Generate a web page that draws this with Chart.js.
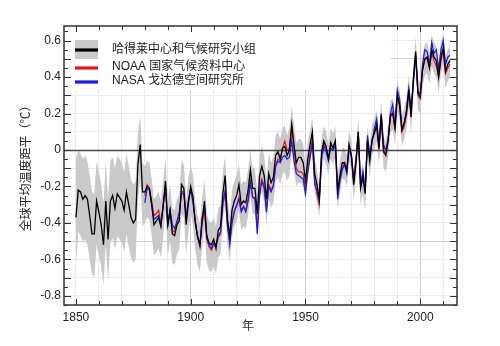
<!DOCTYPE html>
<html><head><meta charset="utf-8">
<script src="https://cdn.jsdelivr.net/npm/chart.js@4.4.1/dist/chart.umd.min.js"></script>
<style>html,body{margin:0;padding:0;background:#fff;}canvas{display:block}</style>
</head><body>
<canvas id="c" width="500" height="346"></canvas>
<script>
// ---------------- data ----------------
const seriesNames = ['哈得莱中心和气候研究小组', 'NOAA 国家气候资料中心', 'NASA 戈达德空间研究所'];
const yTitle = '全球平均温度距平（℃）';
const xTitle = '年';
const hadStartYear = 1850;
const noaaStartYear = 1880;
const nasaStartYear = 1880;

// HadCRUT annual anomaly (black), 1850-2013
const hadcrut = [
 -0.37,-0.22,-0.23,-0.27,-0.25,-0.27,-0.36,-0.46,-0.46,-0.28,
 -0.34,-0.41,-0.52,-0.28,-0.49,-0.28,-0.25,-0.32,-0.24,-0.26,
 -0.28,-0.33,-0.23,-0.30,-0.37,-0.40,-0.38,-0.08,0.03,-0.23,
 -0.23,-0.20,-0.21,-0.30,-0.41,-0.39,-0.37,-0.42,-0.31,-0.17,
 -0.41,-0.33,-0.46,-0.47,-0.41,-0.39,-0.19,-0.21,-0.41,-0.29,
 -0.20,-0.26,-0.40,-0.48,-0.52,-0.38,-0.28,-0.47,-0.51,-0.52,
 -0.49,-0.54,-0.44,-0.42,-0.24,-0.14,-0.38,-0.47,-0.33,-0.28,
 -0.25,-0.19,-0.30,-0.28,-0.29,-0.22,-0.11,-0.21,-0.21,-0.35,
 -0.14,-0.09,-0.14,-0.27,-0.13,-0.18,-0.15,-0.03,-0.01,-0.05,
 0.01,0.02,-0.03,0.00,0.14,0.03,-0.07,-0.04,-0.04,-0.07,
 -0.17,-0.05,0.03,0.10,-0.13,-0.19,-0.27,-0.01,0.05,0.02,
 -0.05,0.04,0.01,0.05,-0.22,-0.14,-0.07,-0.07,-0.11,0.03,
 -0.03,-0.19,-0.07,0.10,-0.21,-0.15,-0.24,0.05,-0.06,0.06,
 0.09,0.14,0.01,0.19,-0.01,-0.03,0.05,0.19,0.20,0.12,
 0.30,0.25,0.11,0.15,0.21,0.33,0.18,0.39,0.54,0.31,
 0.29,0.44,0.50,0.51,0.45,0.55,0.51,0.49,0.40,0.51,
 0.56,0.43,0.47,0.49];

// HadCRUT uncertainty band, upper edge, 1850-2013
const hadUpper = [
 -0.05,0.00,-0.02,-0.05,-0.03,-0.06,-0.14,-0.23,-0.24,-0.06,
 -0.12,-0.19,-0.29,-0.06,-0.27,-0.06,-0.04,-0.10,-0.03,-0.05,
 -0.07,-0.12,-0.02,-0.09,-0.16,-0.19,-0.17,0.09,0.19,-0.07,
 -0.09,-0.06,-0.07,-0.16,-0.27,-0.25,-0.23,-0.28,-0.17,-0.04,
 -0.27,-0.19,-0.32,-0.33,-0.27,-0.25,-0.06,-0.08,-0.27,-0.15,
 -0.08,-0.14,-0.28,-0.36,-0.40,-0.26,-0.16,-0.35,-0.39,-0.40,
 -0.37,-0.42,-0.32,-0.30,-0.12,-0.03,-0.27,-0.36,-0.22,-0.17,
 -0.14,-0.08,-0.19,-0.17,-0.18,-0.11,0.00,-0.10,-0.10,-0.24,
 -0.03,0.02,-0.03,-0.16,-0.02,-0.07,-0.04,0.08,0.10,0.06,
 0.12,0.13,0.08,0.12,0.24,0.14,0.04,0.06,0.06,0.03,
 -0.08,0.04,0.11,0.18,-0.05,-0.11,-0.19,0.07,0.13,0.10,
 0.03,0.12,0.09,0.13,-0.14,-0.06,0.01,0.01,-0.03,0.11,
 0.05,-0.11,0.01,0.18,-0.13,-0.07,-0.16,0.13,0.02,0.14,
 0.17,0.22,0.09,0.27,0.07,0.05,0.13,0.27,0.28,0.20,
 0.38,0.33,0.19,0.23,0.29,0.41,0.26,0.47,0.62,0.39,
 0.37,0.52,0.58,0.59,0.53,0.63,0.59,0.57,0.48,0.59,
 0.64,0.51,0.55,0.57];

// HadCRUT uncertainty band, lower edge, 1850-2013
const hadLower = [
 -0.62,-0.45,-0.47,-0.50,-0.49,-0.52,-0.60,-0.68,-0.70,-0.52,
 -0.58,-0.64,-0.74,-0.52,-0.72,-0.51,-0.48,-0.55,-0.47,-0.49,
 -0.51,-0.56,-0.46,-0.53,-0.59,-0.62,-0.60,-0.28,-0.15,-0.42,
 -0.40,-0.37,-0.38,-0.47,-0.58,-0.56,-0.54,-0.59,-0.48,-0.33,
 -0.58,-0.50,-0.62,-0.63,-0.57,-0.55,-0.35,-0.37,-0.57,-0.45,
 -0.35,-0.41,-0.55,-0.63,-0.67,-0.53,-0.43,-0.62,-0.66,-0.67,
 -0.64,-0.68,-0.59,-0.57,-0.38,-0.29,-0.52,-0.61,-0.47,-0.42,
 -0.39,-0.33,-0.44,-0.42,-0.43,-0.36,-0.25,-0.35,-0.35,-0.50,
 -0.28,-0.23,-0.28,-0.41,-0.27,-0.32,-0.29,-0.17,-0.15,-0.19,
 -0.13,-0.12,-0.17,-0.14,0.00,-0.11,-0.20,-0.18,-0.18,-0.20,
 -0.28,-0.16,-0.07,0.00,-0.23,-0.29,-0.37,-0.11,-0.05,-0.08,
 -0.14,-0.05,-0.08,-0.04,-0.32,-0.24,-0.16,-0.16,-0.20,-0.06,
 -0.12,-0.28,-0.16,0.01,-0.30,-0.24,-0.33,-0.04,-0.15,-0.03,
 0.00,0.05,-0.08,0.10,-0.10,-0.12,-0.04,0.10,0.11,0.03,
 0.21,0.16,0.02,0.06,0.12,0.24,0.09,0.30,0.45,0.22,
 0.20,0.35,0.41,0.42,0.36,0.46,0.42,0.40,0.31,0.42,
 0.47,0.34,0.38,0.40];

// NOAA NCDC (red), 1880-2013
const noaa = [
 -0.25,-0.19,-0.21,-0.28,-0.36,-0.35,-0.33,-0.40,-0.30,-0.19,
 -0.40,-0.34,-0.44,-0.45,-0.40,-0.36,-0.23,-0.23,-0.38,-0.27,
 -0.22,-0.28,-0.40,-0.47,-0.52,-0.40,-0.34,-0.49,-0.53,-0.55,
 -0.52,-0.53,-0.48,-0.46,-0.30,-0.24,-0.42,-0.50,-0.39,-0.33,
 -0.31,-0.26,-0.33,-0.31,-0.33,-0.27,-0.17,-0.26,-0.26,-0.43,
 -0.22,-0.16,-0.20,-0.32,-0.19,-0.22,-0.19,-0.08,-0.05,-0.06,
 0.01,0.05,0.00,0.01,0.12,0.00,-0.10,-0.12,-0.12,-0.13,
 -0.22,-0.10,-0.02,0.06,-0.17,-0.24,-0.30,-0.04,0.04,0.00,
 -0.04,0.02,0.02,0.04,-0.24,-0.16,-0.10,-0.07,-0.12,0.02,
 -0.03,-0.16,-0.05,0.09,-0.19,-0.13,-0.23,0.06,-0.04,0.05,
 0.10,0.13,0.00,0.18,0.01,-0.02,0.06,0.18,0.21,0.11,
 0.29,0.24,0.10,0.13,0.19,0.31,0.20,0.38,0.52,0.30,
 0.28,0.44,0.50,0.50,0.45,0.53,0.49,0.46,0.40,0.49,
 0.54,0.42,0.45,0.47];

// NASA GISS (blue), 1880-2013
const nasa = [
 -0.29,-0.21,-0.22,-0.30,-0.38,-0.37,-0.36,-0.41,-0.30,-0.20,
 -0.42,-0.33,-0.41,-0.43,-0.39,-0.34,-0.24,-0.24,-0.36,-0.28,
 -0.21,-0.29,-0.39,-0.47,-0.53,-0.37,-0.32,-0.48,-0.52,-0.54,
 -0.51,-0.52,-0.47,-0.45,-0.29,-0.22,-0.41,-0.52,-0.40,-0.34,
 -0.30,-0.27,-0.34,-0.31,-0.34,-0.28,-0.18,-0.26,-0.27,-0.46,
 -0.25,-0.17,-0.21,-0.34,-0.20,-0.23,-0.20,-0.09,-0.06,-0.07,
 -0.04,-0.03,-0.05,-0.04,0.05,-0.06,-0.13,-0.14,-0.15,-0.16,
 -0.24,-0.12,-0.04,0.04,-0.19,-0.22,-0.28,-0.05,0.02,-0.01,
 -0.06,0.01,0.00,0.03,-0.27,-0.17,-0.11,-0.08,-0.13,0.01,
 -0.04,-0.17,-0.06,0.10,-0.20,-0.12,-0.22,0.08,-0.03,0.04,
 0.12,0.17,0.02,0.20,0.03,0.00,0.06,0.20,0.25,0.14,
 0.33,0.28,0.12,0.14,0.22,0.34,0.23,0.37,0.52,0.32,
 0.31,0.47,0.55,0.54,0.47,0.59,0.53,0.55,0.44,0.55,
 0.60,0.47,0.51,0.52];

// axis ticks
const xGridYears = [1850,1860,1870,1880,1890,1900,1910,1920,1930,1940,1950,1960,1970,1980,1990,2000,2010];
const xLabelYears = [1850,1900,1950,2000];
const yGridValues = [-0.8,-0.7,-0.6,-0.5,-0.4,-0.3,-0.2,-0.1,0,0.1,0.2,0.3,0.4,0.5,0.6];
const yLabelValues = [-0.8,-0.6,-0.4,-0.2,0,0.2,0.4,0.6];
const yLabelTexts = ['-0.8','-0.6','-0.4','-0.2','0','0.2','0.4','0.6'];

// ---------------- helpers ----------------
const near = (a,b) => Math.abs(a-b) < 1e-6;
const toPoints = (arr, start) => arr.map((v,i) => ({x: start + i, y: v}));
const latinCjk = '"Liberation Sans", Arial, "Noto Sans CJK SC", sans-serif';
const colors = {band:'#c9c9c9', had:'#000000', noaa:'#e8141c', nasa:'#1a1aee'};

const zeroLinePlugin = {
  id:'zeroLine',
  afterDatasetDraw(chart, args){
    if (args.index !== 0) return;
    const {ctx, chartArea:a, scales:{y}} = chart;
    const py = Math.round(y.getPixelForValue(0)) + 0.5;
    ctx.save();
    ctx.strokeStyle = '#4a4a4a'; ctx.lineWidth = 1.4;
    ctx.beginPath(); ctx.moveTo(a.left, py); ctx.lineTo(a.right, py); ctx.stroke();
    ctx.restore();
  }
};

const legendBgPlugin = {
  id:'legendBg',
  beforeDatasetsDraw(chart){
    const {ctx, chartArea:a} = chart;
    ctx.save(); ctx.fillStyle = '#fff';
    ctx.fillRect(a.left + 1, a.top + 1, 390 - a.left, 63);
    ctx.restore();
  }
};

const framePlugin = {
  id:'frame',
  afterDraw(chart){
    const {ctx, chartArea:a, scales:{x, y}} = chart;
    ctx.save();
    ctx.strokeStyle = '#333'; ctx.lineWidth = 1;
    ctx.beginPath();
    for (let k = -17; k <= 13; k++) {
      const v = k * 0.05;
      const py = Math.round(y.getPixelForValue(v)) + 0.5;
      const len = (k % 2 === 0) ? 7 : 4;
      ctx.moveTo(a.left, py); ctx.lineTo(a.left + len, py);
      ctx.moveTo(a.right, py); ctx.lineTo(a.right - len, py);
    }
    xGridYears.forEach(yr => {
      const px = Math.round(x.getPixelForValue(yr)) + 0.5;
      const len = (yr % 50 === 0) ? 6 : 4;
      ctx.moveTo(px, a.bottom); ctx.lineTo(px, a.bottom - len);
      ctx.moveTo(px, a.top); ctx.lineTo(px, a.top + len);
    });
    ctx.stroke();
    ctx.lineWidth = 1.5; ctx.strokeStyle = '#333';
    ctx.strokeRect(a.left, a.top, a.right - a.left, a.bottom - a.top);

    // legend
    const lx = 75, lw = 23;
    ctx.fillStyle = colors.band; ctx.fillRect(lx, 40, lw, 19);
    const rows = [[colors.had, 50, 49.5], [colors.noaa, 68, 66.5], [colors.nasa, 82, 80.5]];
    rows.forEach((r, i) => {
      ctx.strokeStyle = r[0]; ctx.lineWidth = 3.2;
      ctx.beginPath(); ctx.moveTo(lx, r[1]); ctx.lineTo(lx + lw, r[1]); ctx.stroke();
      ctx.fillStyle = '#1a1a1a'; ctx.font = '12px ' + latinCjk;
      ctx.textAlign = 'left'; ctx.textBaseline = 'middle';
      ctx.fillText(seriesNames[i], 112, r[2]);
    });
    // x title
    ctx.fillStyle = '#333'; ctx.font = '12px "Noto Sans CJK SC", sans-serif';
    ctx.textAlign = 'center'; ctx.textBaseline = 'middle';
    ctx.fillText(xTitle, 248, 325);
    ctx.restore();
  }
};

const tickFont = {family:'"Liberation Sans", Arial, sans-serif', size:12};

new Chart(document.getElementById('c'), {
  type:'line',
  data:{
    datasets:[
      {label:'upper', data:toPoints(hadUpper, hadStartYear), borderWidth:0, borderColor:'rgba(0,0,0,0)',
       backgroundColor:colors.band, fill:'+1', pointRadius:0, order:4},
      {label:'lower', data:toPoints(hadLower, hadStartYear), borderWidth:0, borderColor:'rgba(0,0,0,0)',
       fill:false, pointRadius:0, order:4},
      {label:seriesNames[1], data:toPoints(noaa, noaaStartYear), borderColor:colors.noaa, borderWidth:1.2,
       fill:false, pointRadius:0, order:3},
      {label:seriesNames[2], data:toPoints(nasa, nasaStartYear), borderColor:colors.nasa, borderWidth:1.2,
       fill:false, pointRadius:0, order:2},
      {label:seriesNames[0], data:toPoints(hadcrut, hadStartYear), borderColor:colors.had, borderWidth:1.3,
       fill:false, pointRadius:0, order:1}
    ]
  },
  options:{
    responsive:false, animation:false, devicePixelRatio:1,
    layout:{padding:{left:0, right:43, top:26, bottom:0}},
    plugins:{legend:{display:false}, tooltip:{enabled:false}},
    elements:{line:{tension:0}},
    scales:{
      x:{
        type:'linear', min:1844.8, max:2016,
        afterBuildTicks: s => { s.ticks = xGridYears.map(v => ({value:v})); },
        afterFit: s => { s.height = 41; },
        grid:{drawTicks:false, lineWidth:1,
          color: c => (c.tick && [1900,1950,2000].includes(c.tick.value)) ? '#cdcdcd' : '#ebebeb'},
        border:{display:false},
        ticks:{autoSkip:false, maxRotation:0, padding:5, color:'#222', font:tickFont,
          callback: v => xLabelYears.includes(v) ? String(v) : ''}
      },
      y:{
        min:-0.85, max:0.68,
        afterBuildTicks: s => { s.ticks = yGridValues.map(v => ({value:v})); },
        afterFit: s => { s.width = 64; },
        grid:{drawTicks:false, lineWidth:1,
          color: c => {
            const v = c.tick ? c.tick.value : 1;
            if (near(v, 0)) return 'rgba(0,0,0,0)';
            if (near(Math.abs(v), 0.5)) return '#cdcdcd';
            return '#ebebeb';
          }},
        border:{display:false},
        ticks:{autoSkip:false, padding:3, color:'#222', font:tickFont,
          callback: v => { const i = yLabelValues.findIndex(t => near(t, v)); return i >= 0 ? yLabelTexts[i] : ''; }},
        title:{display:true, text:yTitle, color:'#222',
          font:{family:'"Noto Sans CJK SC", sans-serif', size:12}, padding:{top:18, bottom:0}}
      }
    }
  },
  plugins:[zeroLinePlugin, legendBgPlugin, framePlugin]
});
</script>
</body></html>
